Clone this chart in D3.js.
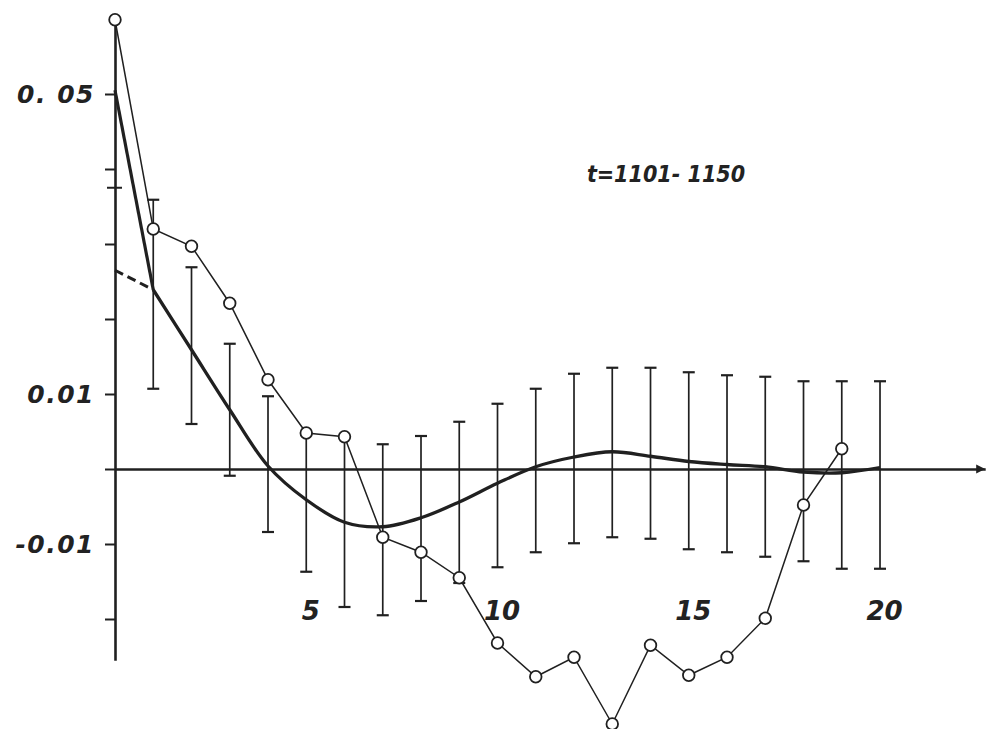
<!DOCTYPE html>
<html>
<head>
<meta charset="utf-8">
<script src="https://cdn.jsdelivr.net/npm/d3@7"></script>
<style>
  body { margin: 0; background: #fff; }
  svg { display: block; }
  text { font-family: "DejaVu Sans", sans-serif; font-style: oblique; font-weight: bold; fill: #222; }
  .period { font-family: "DejaVu Sans Condensed", "DejaVu Sans", sans-serif; font-stretch: condensed; }
</style>
</head>
<body>
<svg id="chart" width="990" height="729"></svg>
<script>
// Sample autocorrelation, lags 0..19
const sampleAcf = [0.0599, 0.0320, 0.0297, 0.0221, 0.0119, 0.0048, 0.0043, -0.0091, -0.0111, -0.0145,
                   -0.0232, -0.0277, -0.0251, -0.0340, -0.0235, -0.0275, -0.0251, -0.0199, -0.0048, 0.0027];
// Model autocorrelation, lags 0..20
const modelAcf = [0.0505, 0.0239, 0.0159, 0.0079, 0.0004, -0.0041, -0.0071, -0.0077, -0.0065, -0.0044,
                  -0.0019, 0.0003, 0.0016, 0.0023, 0.0017, 0.0010, 0.0006, 0.0003, -0.0004, -0.0005, 0.0002];
// Smooth part of the model extended back to lag 0 (dashed)
const modelExtension = [0.0265, 0.0239];
// Confidence band limits, lags 1..20
const bandLags  = d3.range(1, 21);
const bandUpper = [0.0359, 0.0269, 0.0167, 0.0097, 0.0047, 0.0043, 0.0033, 0.0044, 0.0063, 0.0087,
                   0.0107, 0.0127, 0.0135, 0.0135, 0.0129, 0.0125, 0.0123, 0.0117, 0.0117, 0.0117];
const bandLower = [0.0107, 0.0060, -0.0009, -0.0084, -0.0137, -0.0184, -0.0195, -0.0176, -0.0152, -0.0131,
                   -0.0111, -0.0099, -0.0091, -0.0093, -0.0107, -0.0111, -0.0117, -0.0123, -0.0133, -0.0133];
// Axis ticks and labels
const yTickValues = [0.05, 0.04, 0.03, 0.02, 0.01, 0, -0.01, -0.02];
const yLabelValues = [0.05, 0.01, -0.01];
const yLabelTexts = ["0. 05", "0.01", "-0.01"];
const extraMarkValue = 0.0375;
const xTickValues = [5, 10, 15, 20];
const periodLabel = "t=1101- 1150";

const ink = "#202020";
const svg = d3.select("#chart");

const x = d3.scaleLinear().domain([0, 22.75]).range([115, 985.2]);
const y = d3.scaleLinear().domain([-0.0255, 0.0605]).range([660.25, 15.25]);

// Vertical axis with ticks on the left
const yAxis = svg.append("g")
  .attr("transform", `translate(${x(0)},0)`)
  .call(d3.axisLeft(y).tickValues(yTickValues).tickSize(10).tickSizeOuter(0).tickFormat(""));
yAxis.select(".domain").attr("stroke", ink).attr("stroke-width", 2.6);
yAxis.selectAll(".tick line").attr("stroke", ink).attr("stroke-width", 2);

// short mark crossing the axis
svg.append("line")
  .attr("x1", x(0) - 8).attr("x2", x(0) + 7)
  .attr("y1", y(extraMarkValue)).attr("y2", y(extraMarkValue))
  .attr("stroke", ink).attr("stroke-width", 2);

// Y labels
svg.append("g").selectAll("text")
  .data(yLabelValues)
  .join("text")
  .attr("x", 95)
  .attr("y", d => y(d) + 9)
  .attr("text-anchor", "end")
  .attr("font-size", 25)
  .attr("letter-spacing", 1.5)
  .text((d, i) => yLabelTexts[i]);

// Horizontal axis through zero
const xAxis = svg.append("g")
  .attr("transform", `translate(0,${y(0)})`)
  .call(d3.axisBottom(x).tickValues(xTickValues).tickSize(0).tickSizeOuter(0).tickPadding(133)
    .tickFormat(d3.format("d")));
xAxis.select(".domain").attr("stroke", ink).attr("stroke-width", 2.6);
xAxis.selectAll(".tick text")
  .attr("font-size", 26)
  .attr("font-family", "DejaVu Sans, sans-serif")
  .attr("font-style", "oblique")
  .attr("font-weight", "bold")
  .attr("fill", ink)
  .attr("dx", 4);

// arrow tip at the end of the horizontal axis
svg.append("path")
  .attr("d", d3.line()([[x(22.75) - 9, y(0) - 4.5], [x(22.75), y(0)], [x(22.75) - 9, y(0) + 4.5]]) + "Z")
  .attr("fill", ink);

// Confidence bars
const bars = svg.append("g");
bars.selectAll("line.bar")
  .data(bandLags)
  .join("line")
  .attr("class", "bar")
  .attr("x1", d => x(d)).attr("x2", d => x(d))
  .attr("y1", (d, i) => y(bandUpper[i]))
  .attr("y2", (d, i) => y(bandLower[i]))
  .attr("stroke", ink).attr("stroke-width", 1.7);
bars.selectAll("line.capTop")
  .data(bandLags)
  .join("line")
  .attr("class", "capTop")
  .attr("x1", d => x(d) - 6).attr("x2", d => x(d) + 6)
  .attr("y1", (d, i) => y(bandUpper[i]))
  .attr("y2", (d, i) => y(bandUpper[i]))
  .attr("stroke", ink).attr("stroke-width", 2.2);
bars.selectAll("line.capBot")
  .data(bandLags)
  .join("line")
  .attr("class", "capBot")
  .attr("x1", d => x(d) - 6).attr("x2", d => x(d) + 6)
  .attr("y1", (d, i) => y(bandLower[i]))
  .attr("y2", (d, i) => y(bandLower[i]))
  .attr("stroke", ink).attr("stroke-width", 2.2);

// Model curve: straight drop from lag 0, smooth afterwards
const modelPts = modelAcf.map((v, i) => [x(i), y(v)]);
svg.append("path")
  .attr("d", d3.line()(modelPts.slice(0, 2)))
  .attr("fill", "none").attr("stroke", ink).attr("stroke-width", 3.2);
svg.append("path")
  .attr("d", d3.line().curve(d3.curveCatmullRom.alpha(0.5))(modelPts.slice(1)))
  .attr("fill", "none").attr("stroke", ink).attr("stroke-width", 3.3);
svg.append("path")
  .attr("d", d3.line()(modelExtension.map((v, i) => [x(i), y(v)])))
  .attr("fill", "none").attr("stroke", ink).attr("stroke-width", 3)
  .attr("stroke-dasharray", "9,5");

// Sample autocorrelation: thin polyline with open circles
const samplePts = sampleAcf.map((v, i) => [x(i), y(v)]);
svg.append("path")
  .attr("d", d3.line()(samplePts))
  .attr("fill", "none").attr("stroke", ink).attr("stroke-width", 1.5);
svg.append("g").selectAll("circle")
  .data(samplePts)
  .join("circle")
  .attr("cx", d => d[0]).attr("cy", d => d[1])
  .attr("r", 5.8)
  .attr("fill", "#fff").attr("stroke", ink).attr("stroke-width", 1.8);

// Period label
svg.append("text")
  .attr("class", "period")
  .attr("x", 666).attr("y", 182)
  .attr("text-anchor", "middle")
  .attr("font-size", 23)
  .text(periodLabel);
</script>
</body>
</html>
